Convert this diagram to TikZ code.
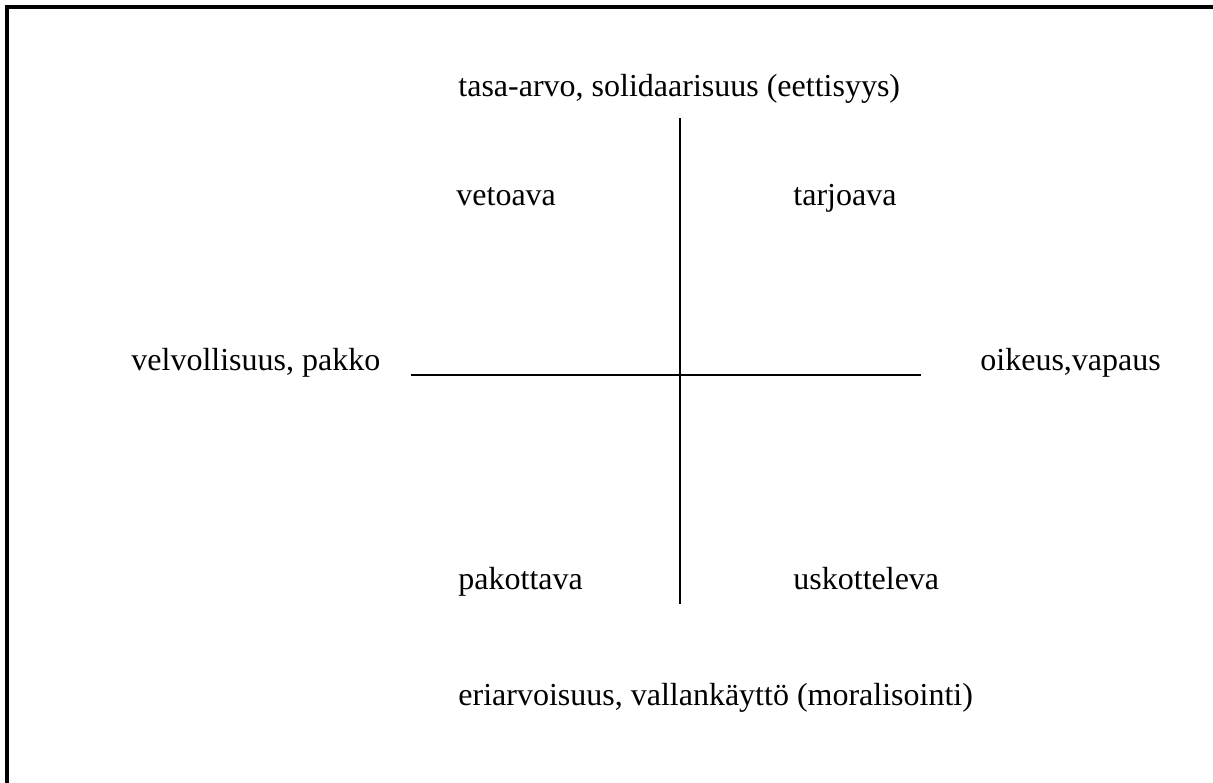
\documentclass[tikz,border=0pt]{standalone}
\usepackage{fontspec}
\setmainfont{Liberation Serif}
\usepackage{tikz}
\usetikzlibrary{positioning}

\begin{document}
\begin{tikzpicture}[x=0.5pt,y=-0.5pt,
  lbl/.style={anchor=base west,inner sep=0pt,font=\fontsize{16}{19}\selectfont}]
\clip (0,0) rectangle (1213,782);
\draw [line width=1.6pt] (7,800) -- (7,7) -- (1230,7);
\node[lbl] (top) at (458,96) {tasa-arvo, solidaarisuus (eettisyys)};
\node[lbl] (vet) at (456,205) {vetoava};
\node[lbl] (tar) at (793,205) {tarjoava};
\node[lbl] (vel) at (131,370) {velvollisuus, pakko};
\node[lbl] (oik) at (980,370) {oikeus,vapaus};
\node[lbl] (pak) at (458,589) {pakottava};
\node[lbl] (usk) at (793,589) {uskotteleva};
\node[lbl] (eri) at (458,705) {eriarvoisuus, vallankäyttö (moralisointi)};
\coordinate (n) at (680,118);
\coordinate (s) at (680,604);
\coordinate (w) at (411,375);
\coordinate (e) at (921,375);
\draw [line width=1pt] (n) -- (s);
\draw [line width=1pt] (w) -- (e);
\end{tikzpicture}
\end{document}
